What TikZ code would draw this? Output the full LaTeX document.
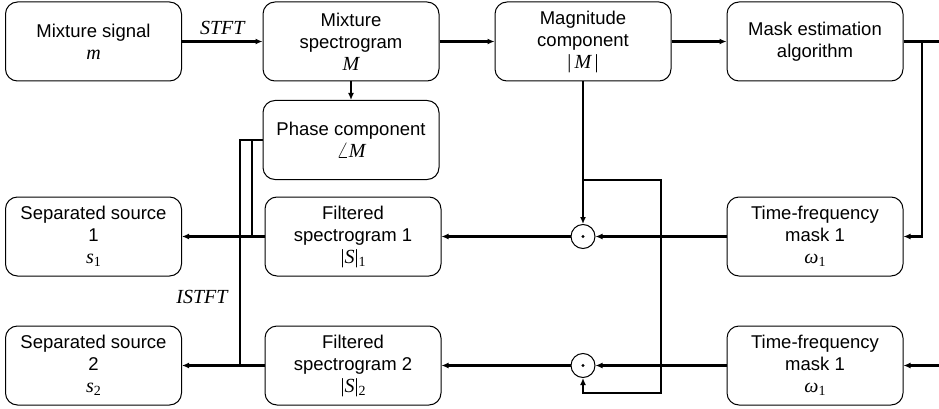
\documentclass[tikz,border=0pt]{standalone}
\usepackage{fontspec}
\usepackage{graphicx}
\setmainfont{Liberation Sans}
\newfontfamily\mserif{Liberation Serif}
\newcommand\mv[1]{{\mserif\itshape\fontsize{20}{22}\selectfont #1}}
\newcommand\mup[1]{{\mserif\fontsize{20}{22}\selectfont #1}}
\newcommand\msub[1]{\raisebox{-3.5pt}{\mserif\fontsize{14}{14}\selectfont #1}}
\newcommand\mangle{\scalebox{1.35}{$\angle$}}
\usetikzlibrary{arrows.meta}
\begin{document}
\begin{tikzpicture}[x=1pt,y=-1pt,
  blk/.style={draw, line width=1pt, rounded corners=12pt, minimum width=176pt, minimum height=79pt,
    align=center, inner sep=0pt, font=\fontsize{18.5}{22}\selectfont},
  conn/.style={line width=2.2pt},
  arr/.style={conn, -{Latex[length=7pt,width=6pt]}},
  mul/.style={draw, circle, line width=1pt, minimum size=24pt, inner sep=0pt},
  lbl/.style={font=\fontsize{18.5}{22}\selectfont}
]
\useasboundingbox (0,0) rectangle (939,409);
\node[blk] (ms) at (93.5,41.5) {Mixture signal\\\mv{m}};
\node[blk] (msp) at (351,41.5) {Mixture\\spectrogram\\\mv{M}};
\node[blk] (mag) at (583,41.5) {Magnitude\\component\\\mup{|\,}\mv{M}\mup{\,|}};
\node[blk] (mask) at (815,41.5) {Mask estimation\\algorithm};
\node[blk] (phase) at (351,140) {Phase component\\\mangle\mv{M}};
\node[blk] (sep1) at (93.5,236.5) {Separated source\\1\\\mv{s}\msub{1}};
\node[blk] (f1) at (353,236.5) {Filtered\\spectrogram 1\\\mup{|}\mv{S}\mup{|}\msub{1}};
\node[blk] (tf1) at (815,236.5) {Time-frequency\\mask 1\\\mv{ω}\msub{1}};
\node[blk] (sep2) at (93.5,365.5) {Separated source\\2\\\mv{s}\msub{2}};
\node[blk] (f2) at (353,365.5) {Filtered\\spectrogram 2\\\mup{|}\mv{S}\mup{|}\msub{2}};
\node[blk] (tf2) at (815,365.5) {Time-frequency\\mask 1\\\mv{ω}\msub{1}};
\node[mul] (c1) at (583,236.5) {};
\node[mul] (c2) at (583,365.5) {};
\fill (c1) circle (1.6pt);
\fill (c2) circle (1.6pt);

\coordinate (re1) at (939,41.5);
\coordinate (re2) at (939,365.5);
\coordinate (j1) at (922,41.5);
\coordinate (j2) at (583,180);
\coordinate (k1) at (661,180);
\coordinate (k2) at (661,393);
\coordinate (k3) at (583,393);
\coordinate (p1) at (240,140);
\coordinate (p2) at (252,140);
\coordinate (q1) at (240,365.5);
\coordinate (q2) at (252,236.5);

\draw[arr] (ms) -- node[lbl, above=2pt] {\mv{STFT}} (msp);
\draw[arr] (msp) -- (mag);
\draw[arr] (mag) -- (mask);
\draw[conn] (mask.east) -- (re1);
\draw[arr] (j1) |- (tf1.east);
\draw[arr] (re2) -- (tf2.east);
\draw[arr] (msp) -- (phase);
\draw[arr] (mag) -- (c1);
\draw[arr] (j2) -- (k1) -- (k2) -- (k3) -- (c2.south);
\draw[arr] (tf1) -- (c1);
\draw[arr] (c1) -- (f1);
\draw[arr] (f1) -- (sep1);
\draw[arr] (tf2) -- (c2);
\draw[arr] (c2) -- (f2);
\draw[arr] (f2) -- (sep2);
\draw[conn] (phase.west) -- (p1) -- (q1);
\draw[conn] (p2) -- (q2);
\node[lbl] (istft) at (202,297) {\mv{ISTFT}};
\end{tikzpicture}
\end{document}
